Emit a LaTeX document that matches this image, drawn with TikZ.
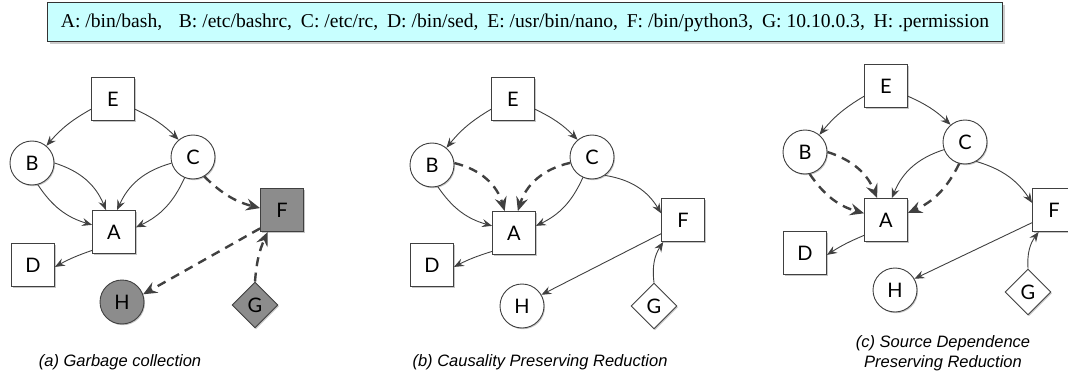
\documentclass[tikz,border=0pt]{standalone}
\usepackage{fontspec}
\usepackage{tikz}
\usetikzlibrary{arrows.meta, shapes.geometric, shadows}
\newfontfamily\letterfont{Lato}
\newfontfamily\capfont{Liberation Sans}
\newfontfamily\legendfont{Liberation Serif}
\definecolor{linegray}{HTML}{404040}
\definecolor{gcgray}{HTML}{8C8C8C}
\definecolor{legendcyan}{HTML}{C8FFFF}
\tikzset{
  nodebase/.style={draw=linegray, line width=0.9pt, fill=white, inner sep=0pt,
    font=\letterfont\fontsize{20}{20}\selectfont,
    drop shadow={shadow xshift=1pt, shadow yshift=-1.2pt, opacity=.45}},
  procbox/.style={nodebase, rectangle, minimum size=43pt},
  filedisc/.style={nodebase, circle, minimum size=44pt},
  sockgem/.style={nodebase, diamond, minimum size=46pt},
  gcfill/.style={fill=gcgray},
  flow/.style={draw=linegray, line width=0.9pt, -{Stealth[length=10pt, width=8pt, inset=3.5pt]}},
  mergeflow/.style={draw=linegray, line width=2.4pt, dash pattern=on 9pt off 6.5pt,
    -{Stealth[length=14pt, width=12pt, inset=5pt]}},
  caption/.style={font=\capfont\itshape\fontsize{16.5}{20}\selectfont, align=center}
}
\begin{document}
\begin{tikzpicture}[x=1pt, y=1pt]
\useasboundingbox (0,0) rectangle (1068,-377);
\node(legend) at (525,-22.5) [draw=black!80, line width=1pt, fill=legendcyan,
  minimum width=955pt, minimum height=39pt, inner xsep=2pt,
  drop shadow={shadow xshift=2pt, shadow yshift=-2.5pt, opacity=.4},
  font=\legendfont\fontsize{19.6}{22}\selectfont]
  {A: /bin/bash,\hspace{0.85em}B: /etc/bashrc,\hspace{0.45em}C: /etc/rc,\hspace{0.45em}D: /bin/sed,\hspace{0.45em}E: /usr/bin/nano,\hspace{0.45em}F: /bin/python3,\hspace{0.45em}G: 10.10.0.3,\hspace{0.45em}H: .permission};
%
% (a) garbage collection
\node(Ea)[procbox] at (113,-99) {E};
\node(Ba)[filedisc] at (32,-163) {B};
\node(Ca)[filedisc] at (193,-157) {C};
\node(Aa)[procbox] at (114,-232) {A};
\node(Da)[procbox] at (33,-265) {D};
\node(Fa)[procbox, gcfill] at (282,-210) {F};
\node(Ha)[filedisc, gcfill] at (122,-302) {H};
\node(Ga)[sockgem, gcfill] at (255,-305) {G};
\draw[flow](Ea.205) to[bend right=10] (Ba.50);
\draw[flow](Ea.-25) to[bend left=10] (Ca.130);
\draw[flow](Ba.0) to[bend left=25] (Aa.110);
\draw[flow](Ba.-75) to[bend right=20] (Aa.162);
\draw[flow](Ca.196) to[bend right=25] (Aa.82);
\draw[flow](Ca.248) to[bend left=20] (Aa.12);
\draw[flow](Aa.220) to[bend right=5] (Da.-5);
\draw[mergeflow](Ca.-60) to[bend right=15] (Fa.175);
\draw[mergeflow](Fa.220) -- (Ha.20);
\draw[mergeflow](Ga.north) to[bend left=10] (Fa.237);
\node(capa)[caption] at (120,-362) {(a) Garbage collection};
%
% (b) causality preserving reduction
\node(Eb)[procbox] at (513,-99) {E};
\node(Bb)[filedisc] at (432,-165) {B};
\node(Cb)[filedisc] at (592,-157) {C};
\node(Ab)[procbox] at (514,-233) {A};
\node(Db)[procbox] at (432,-265) {D};
\node(Fb)[procbox] at (683,-220) {F};
\node(Hb)[filedisc] at (522,-306) {H};
\node(Gb)[sockgem] at (654,-306) {G};
\draw[flow](Eb.205) to[bend right=10] (Bb.50);
\draw[flow](Eb.-25) to[bend left=10] (Cb.130);
\draw[mergeflow](Bb.5) to[bend left=30] (Ab.113);
\draw[flow](Bb.-75) to[bend right=20] (Ab.162);
\draw[mergeflow](Cb.195) to[bend right=30] (Ab.80);
\draw[flow](Cb.246) to[bend left=20] (Ab.18);
\draw[flow](Cb.-55) to[bend left=25] (Fb.163);
\draw[flow](Ab.220) to[bend right=5] (Db.-5);
\draw[flow](Fb.212) -- (Hb.30);
\draw[flow](Gb.north) to[bend left=20] (Fb.228);
\node(capb)[caption] at (540,-362) {(b) Causality Preserving Reduction};
%
% (c) source dependence preserving reduction
\node(Ec)[procbox] at (886,-86) {E};
\node(Bc)[filedisc] at (805,-152) {B};
\node(Cc)[filedisc] at (965,-142) {C};
\node(Ac)[procbox] at (886,-220) {A};
\node(Dc)[procbox] at (805,-253) {D};
\node(Fc)[procbox] at (1054,-210) {F};
\node(Hc)[filedisc] at (895,-290) {H};
\node(Gc)[sockgem] at (1028,-292) {G};
\draw[flow](Ec.205) to[bend right=10] (Bc.50);
\draw[flow](Ec.-25) to[bend left=10] (Cc.130);
\draw[mergeflow](Bc.0) to[bend left=25] (Ac.112);
\draw[mergeflow](Bc.-78) to[bend right=20] (Ac.163);
\draw[flow](Cc.200) to[bend right=25] (Ac.75);
\draw[mergeflow](Cc.255) to[bend left=20] (Ac.18);
\draw[flow](Cc.-60) to[bend left=20] (Fc.162);
\draw[flow](Ac.215) to[bend right=5] (Dc.-5);
\draw[flow](Fc.210) -- (Hc.30);
\draw[flow](Gc.north) to[bend left=20] (Fc.235);
\node(capc)[caption] at (943,-353) {(c) Source Dependence\\Preserving Reduction};
\end{tikzpicture}
\end{document}
